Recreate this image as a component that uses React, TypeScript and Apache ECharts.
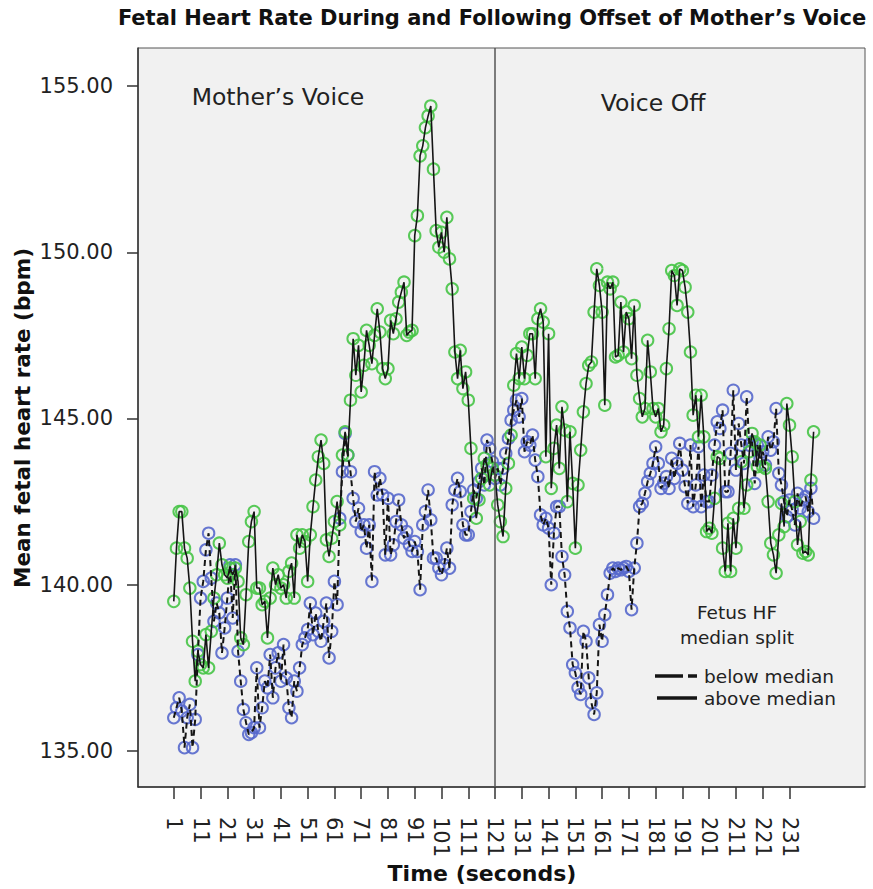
import React, { useEffect, useRef } from "react";
import * as echarts from "echarts";

const titleText = "Fetal Heart Rate During and Following Offset of Mother’s Voice";
const yAxisTitle = "Mean fetal heart rate (bpm)";
const xAxisTitle = "Time (seconds)";
const phaseLabels = ["Mother’s Voice", "Voice Off"];
const legendTitle = ["Fetus HF", "median split"];
const legendItems = ["below median", "above median"];

const xTicks = [1, 11, 21, 31, 41, 51, 61, 71, 81, 91, 101, 111, 121, 131, 141, 151, 161, 171, 181, 191, 201, 211, 221, 231];
const yTicks = [135, 140, 145, 150, 155];
const voiceOffset = 121;

// above median (green, solid line), seconds 1..240
const aboveMedian = [
  139.5, 141.1, 142.2, 142.2, 141.1, 140.8, 139.9, 138.3, 137.1, 138.0,
  137.6, 137.5, 138.5, 137.5, 138.6, 139.6, 140.3, 141.25, 140.6, 140.3,
  140.2, 140.5, 140.3, 140.5, 140.1, 138.4, 138.2, 139.7, 141.3, 141.9,
  142.2, 139.9, 139.9, 139.4, 139.5, 138.4, 139.6, 140.5, 140.0, 140.3,
  139.9, 140.0, 139.6, 140.4, 140.65, 139.6, 141.5, 141.1, 141.5, 141.3,
  140.1, 141.5, 142.35, 143.15, 143.85, 144.35, 143.65, 141.35, 140.85, 141.4,
  141.9, 142.5, 141.8, 143.9, 144.6, 143.9, 145.55, 147.4, 146.3, 147.2,
  145.8, 146.6, 147.65, 147.2, 146.65, 147.5, 148.3, 147.6, 146.5, 146.2,
  146.5, 147.95, 147.55, 148.0, 148.5, 148.8, 149.1, 147.5, 147.6, 147.65,
  150.5, 151.1, 152.9, 153.2, 153.75, 154.1, 154.4, 152.5, 150.65, 150.15,
  150.6, 150.0, 151.05, 149.8, 148.9, 147.0, 146.2, 147.05, 145.9, 146.4,
  145.55, 144.1, 142.6, 142.0, 142.55, 143.2, 143.8, 143.6, 143.0, 143.5,
  143.3, 142.4, 141.9, 141.45, 142.9, 143.65, 144.5, 146.0, 146.95, 146.2,
  147.15, 146.2, 146.9, 147.55, 147.55, 146.2, 148.0, 148.3, 147.9, 143.85,
  147.55, 142.9, 144.1, 144.8, 143.5, 145.35, 144.65, 142.5, 144.6, 143.05,
  141.1, 143.0, 144.05, 145.2, 146.05, 146.6, 146.7, 148.2, 149.5, 149.0,
  148.2, 145.4, 149.1, 148.9, 149.1, 146.85, 146.9, 148.5, 147.0, 148.2,
  148.0, 146.8, 148.4, 146.3, 145.6, 145.05, 145.3, 147.35, 146.4, 145.3,
  145.05, 145.3, 144.6, 144.8, 146.5, 147.7, 149.45, 149.3, 148.4, 149.5,
  149.45, 148.95, 148.2, 147.0, 145.1, 145.7, 144.45, 145.7, 144.45, 141.6,
  141.7, 141.55, 142.6, 143.85, 143.8, 141.1, 140.4, 141.85, 140.4, 142.0,
  141.1, 142.3, 143.7, 142.3, 143.0, 144.0, 144.55, 144.3, 143.55, 144.2,
  143.55, 143.5, 142.5, 141.25, 140.9, 140.35, 141.5, 142.45, 141.75, 145.45,
  144.8, 143.85, 142.5, 141.2, 141.9, 140.95, 141.0, 140.9, 143.15, 144.6,
];

// below median (blue, dashed line), seconds 1..240
const belowMedian = [
  136.0, 136.3, 136.6, 136.2, 135.1, 136.0, 136.4, 135.1, 135.95, 137.9,
  139.6, 140.1, 141.05, 141.55, 140.2, 138.9, 139.45, 139.15, 137.95, 138.7,
  139.6, 140.6, 139.0, 140.6, 138.0, 137.1, 136.25, 135.85, 135.5, 135.55,
  135.7, 137.5, 135.7, 136.3, 137.1, 136.9, 137.9, 136.6, 137.5, 137.95,
  137.1, 138.2, 137.2, 136.3, 136.0, 137.1, 136.8, 137.5, 138.2, 138.4,
  138.65, 139.45, 138.5, 139.15, 138.6, 138.3, 138.9, 139.45, 137.8, 138.6,
  140.1, 139.4, 142.0, 143.4, 144.55, 143.9, 143.4, 142.6, 141.9, 142.3,
  141.6, 141.8, 141.1, 141.8, 140.1, 143.4, 142.7, 143.2, 142.7, 140.9,
  142.6, 140.9, 141.2, 141.9, 142.55, 141.8, 141.4, 141.6, 141.2, 141.0,
  141.3, 141.0, 139.85, 141.8, 142.2, 142.85, 141.95, 140.8, 140.8, 140.5,
  140.3, 140.6, 141.1, 140.5, 142.4, 142.85, 143.2, 142.8, 141.8, 141.5,
  141.5, 142.2, 142.85, 142.6, 143.1, 143.5, 143.0, 144.35, 144.1, 143.7,
  143.2, 143.5, 143.0, 143.5, 143.95, 144.4, 144.95, 145.25, 145.55, 145.05,
  145.6, 144.0, 144.3, 144.2, 144.5, 143.75, 143.25, 142.1, 141.8, 142.0,
  141.7, 140.0, 141.55, 142.35, 142.35, 140.85, 140.3, 139.2, 138.7, 137.6,
  137.35, 136.9, 136.7, 138.6, 138.3, 137.2, 136.45, 136.1, 136.75, 138.8,
  138.3, 139.1, 139.7, 140.35, 140.5, 140.4, 140.5, 140.45, 140.5, 140.55,
  140.4, 139.25, 140.5, 141.25, 142.35, 142.45, 142.75, 143.1, 143.35, 143.65,
  144.15, 143.65, 142.9, 143.05, 143.25, 142.9, 143.8, 143.2, 143.65, 144.25,
  143.45, 142.95, 142.45, 144.2, 142.35, 143.0, 144.15, 142.35, 143.3, 142.5,
  142.5, 143.3, 144.2, 144.9, 144.7, 145.25, 142.8, 142.8, 143.95, 145.85,
  143.45, 144.85, 144.2, 143.65, 145.65, 144.2, 144.3, 143.05, 144.2, 143.8,
  144.0, 143.6, 144.45, 144.05, 144.3, 145.3, 143.35, 143.0, 142.5, 142.05,
  142.55, 142.25, 141.8, 142.75, 142.3, 142.55, 142.65, 142.2, 142.9, 142.0,
];

const GREEN = "#46c446";
const BLUE = "#5668cc";
const INK = "#151515";
const FONT = "'DejaVu Sans', sans-serif";
const BOLD_FONT = "'DejaVu Sans', sans-serif";

export default function App() {
  const ref = useRef<HTMLDivElement>(null);

  useEffect(() => {
    if (!ref.current) return;
    const chart = echarts.init(ref.current, undefined, { renderer: "svg" });
    const above = aboveMedian.map((v, i) => [i + 1, v]);
    const below = belowMedian.map((v, i) => [i + 1, v]);

    const option: any = {
      animation: false,
      backgroundColor: "#ffffff",
      grid: {
        left: 138,
        right: 8,
        top: 48,
        bottom: 102,
        show: true,
        backgroundColor: "#f1f1f1",
        borderColor: "#555",
        borderWidth: 1,
      },
      xAxis: {
        type: "value",
        min: -12.37,
        max: 259.2,
        axisLine: { show: true, onZero: false, lineStyle: { color: "#333", width: 1.5 } },
        axisTick: { show: true, customValues: xTicks, length: 12, lineStyle: { color: "#333", width: 1.5 } },
        axisLabel: {
          customValues: xTicks,
          rotate: -90,
          margin: 30,
          fontSize: 21,
          fontFamily: FONT,
          color: "#222",
        },
        splitLine: { show: false },
      },
      yAxis: {
        type: "value",
        min: 133.917,
        max: 156.143,
        axisLine: { show: true, onZero: false, lineStyle: { color: "#333", width: 1.5 } },
        axisTick: { show: true, customValues: yTicks, length: 11, lineStyle: { color: "#333", width: 1.5 } },
        axisLabel: {
          customValues: yTicks,
          formatter: (v: number) => v.toFixed(2),
          margin: 25,
          fontSize: 21,
          fontFamily: FONT,
          color: "#222",
        },
        splitLine: { show: false },
      },
      series: [
        {
          name: "below median points",
          type: "scatter",
          data: below,
          symbol: "circle",
          symbolSize: 11.5,
          itemStyle: { color: "rgba(0,0,0,0)", borderColor: BLUE, borderWidth: 2, opacity: 0.9 },
          z: 2,
          silent: true,
        },
        {
          name: "above median points",
          type: "scatter",
          data: above,
          symbol: "circle",
          symbolSize: 11.5,
          itemStyle: { color: "rgba(0,0,0,0)", borderColor: GREEN, borderWidth: 2, opacity: 0.9 },
          z: 2,
          silent: true,
        },
        {
          name: "below median",
          type: "line",
          data: below,
          showSymbol: false,
          lineStyle: { color: INK, width: 2, type: [6, 4] },
          z: 3,
          silent: true,
        },
        {
          name: "above median",
          type: "line",
          data: above,
          showSymbol: false,
          lineStyle: { color: INK, width: 1.6 },
          z: 3,
          silent: true,
          markLine: {
            silent: true,
            symbol: "none",
            label: { show: false },
            lineStyle: { color: "#555", width: 1.5, type: "solid" },
            data: [{ xAxis: voiceOffset }],
          },
        },
      ],
      graphic: [
        {
          type: "text",
          x: 492,
          y: 18,
          style: { text: titleText, font: `bold 21px ${BOLD_FONT}`, fill: "#111", align: "center", verticalAlign: "middle" },
        },
        {
          type: "text",
          x: 22,
          y: 418,
          rotation: Math.PI / 2,
          style: { text: yAxisTitle, font: `bold 21.5px ${BOLD_FONT}`, fill: "#111", align: "center", verticalAlign: "middle" },
        },
        {
          type: "text",
          x: 482,
          y: 873,
          style: { text: xAxisTitle, font: `bold 22px ${BOLD_FONT}`, fill: "#111", align: "center", verticalAlign: "middle" },
        },
        {
          type: "text",
          x: 278,
          y: 97,
          style: { text: phaseLabels[0], font: `23.5px ${FONT}`, fill: "#222", align: "center", verticalAlign: "middle" },
        },
        {
          type: "text",
          x: 653,
          y: 103,
          style: { text: phaseLabels[1], font: `23.5px ${FONT}`, fill: "#222", align: "center", verticalAlign: "middle" },
        },
        {
          type: "text",
          x: 737,
          y: 612,
          style: { text: legendTitle[0], font: `18.5px ${FONT}`, fill: "#222", align: "center", verticalAlign: "middle" },
        },
        {
          type: "text",
          x: 737,
          y: 637,
          style: { text: legendTitle[1], font: `18.5px ${FONT}`, fill: "#222", align: "center", verticalAlign: "middle" },
        },
        {
          type: "line",
          shape: { x1: 655, y1: 676, x2: 683, y2: 676 },
          style: { stroke: INK, lineWidth: 3.5 },
        },
        {
          type: "line",
          shape: { x1: 688, y1: 676, x2: 697, y2: 676 },
          style: { stroke: INK, lineWidth: 3.5 },
        },
        {
          type: "line",
          shape: { x1: 657, y1: 698, x2: 697, y2: 698 },
          style: { stroke: INK, lineWidth: 3.5 },
        },
        {
          type: "text",
          x: 704,
          y: 676,
          style: { text: legendItems[0], font: `18.5px ${FONT}`, fill: "#222", align: "left", verticalAlign: "middle" },
        },
        {
          type: "text",
          x: 704,
          y: 698,
          style: { text: legendItems[1], font: `18.5px ${FONT}`, fill: "#222", align: "left", verticalAlign: "middle" },
        },
      ],
    };

    chart.setOption(option);
    return () => chart.dispose();
  }, []);

  return <div ref={ref} style={{ position: "fixed", left: 0, top: 0, width: 873, height: 889 }} />;
}
